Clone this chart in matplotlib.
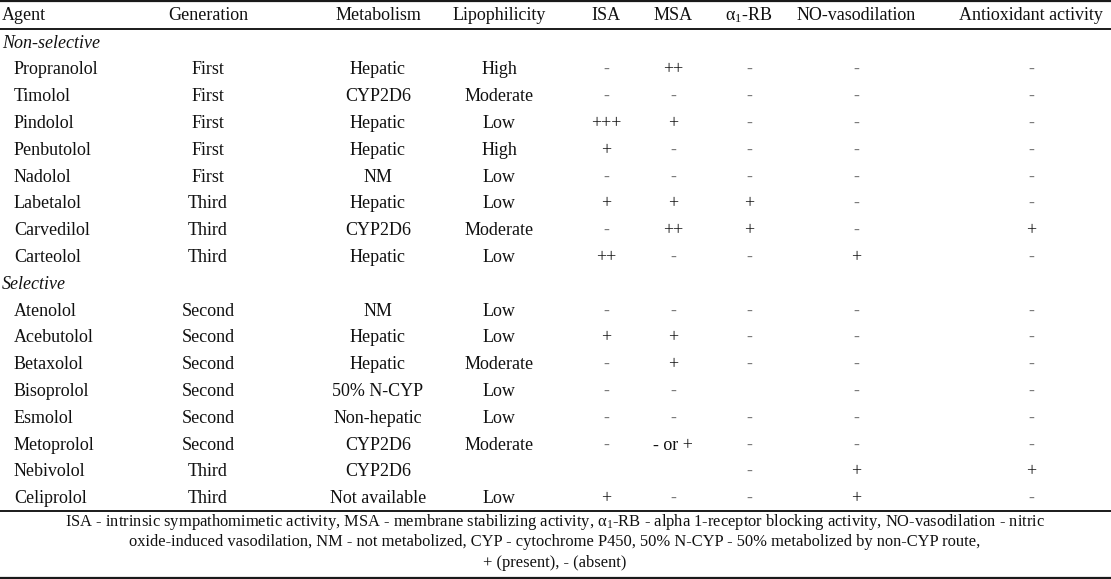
import matplotlib
matplotlib.use("Agg")
import matplotlib.pyplot as plt
from matplotlib.lines import Line2D

plt.rcParams['font.family'] = ['Liberation Serif', 'DejaVu Serif']
plt.rcParams['mathtext.fontset'] = 'custom'
plt.rcParams['mathtext.rm'] = 'Liberation Serif'
plt.rcParams['mathtext.it'] = 'Liberation Serif:italic'

headers = ["Agent", "Generation", "Metabolism", "Lipophilicity", "ISA", "MSA",
           r"$\mathrm{\alpha}_{1}$-RB", "NO-vasodilation", "Antioxidant activity"]

groups = ["Non-selective", "Selective"]
group_sizes = [8, 8]

agents = ["Propranolol", "Timolol", "Pindolol", "Penbutolol", "Nadolol", "Labetalol",
          "Carvedilol", "Carteolol",
          "Atenolol", "Acebutolol", "Betaxolol", "Bisoprolol", "Esmolol", "Metoprolol",
          "Nebivolol", "Celiprolol"]
generation = ["First", "First", "First", "First", "First", "Third", "Third", "Third",
              "Second", "Second", "Second", "Second", "Second", "Second", "Third", "Third"]
metabolism = ["Hepatic", "CYP2D6", "Hepatic", "Hepatic", "NM", "Hepatic", "CYP2D6", "Hepatic",
              "NM", "Hepatic", "Hepatic", "50% N-CYP", "Non-hepatic", "CYP2D6", "CYP2D6",
              "Not available"]
lipophilicity = ["High", "Moderate", "Low", "High", "Low", "Low", "Moderate", "Low",
                 "Low", "Low", "Moderate", "Low", "Low", "Moderate", "", "Low"]
isa = ["-", "-", "+++", "+", "-", "+", "-", "++",
       "-", "+", "-", "-", "-", "-", "", "+"]
msa = ["++", "-", "+", "-", "-", "+", "++", "-",
       "-", "+", "+", "-", "-", "- or +", "", "-"]
a1rb = ["-", "-", "-", "-", "-", "+", "+", "-",
        "-", "-", "-", "", "-", "-", "-", "-"]
no_vaso = ["-", "-", "-", "-", "-", "-", "-", "+",
           "-", "-", "-", "-", "-", "-", "+", "+"]
antiox = ["-", "-", "-", "-", "-", "-", "+", "-",
          "-", "-", "-", "-", "-", "-", "+", "-"]

footnote = ["ISA - intrinsic sympathomimetic activity, MSA - membrane stabilizing activity, "
            r"$\mathrm{\alpha}_{1}$-RB - alpha 1-receptor blocking activity, NO-vasodilation - nitric",
            "oxide-induced vasodilation, NM - not metabolized, CYP - cytochrome P450, "
            "50% N-CYP - 50% metabolized by non-CYP route,",
            "+ (present), - (absent)"]

W, H = 1111, 579
fig = plt.figure(figsize=(W / 100, H / 100), dpi=100)
ax = fig.add_axes([0, 0, 1, 1])
ax.set_xlim(0, W)
ax.set_ylim(H, 0)
ax.axis('off')

FS = 13.0
TXT = '#111111'
col_x = [2, 208, 378, 499, 606, 673, 749, 856, 1031]
indent = 14
header_y = 15
row_h = 26.8
first_y = 43

def hline(y, lw):
    ax.add_line(Line2D([0, W], [y, y], color='#1a1a1a', lw=lw, solid_capstyle='butt'))

hline(1.2, 1.6)
hline(28.5, 1.4)
hline(511, 1.4)
hline(577.5, 1.6)

for i, h in enumerate(headers):
    ha = 'left' if i == 0 else 'center'
    ax.text(col_x[i], header_y, h, ha=ha, va='center', fontsize=FS, color=TXT)

cols = [generation, metabolism, lipophilicity, isa, msa, a1rb, no_vaso, antiox]
y = first_y
k = 0
for g, n in zip(groups, group_sizes):
    ax.text(col_x[0], y, g, ha='left', va='center', fontsize=FS, style='italic', color=TXT)
    y += row_h
    for _ in range(n):
        ax.text(indent, y, agents[k], ha='left', va='center', fontsize=FS, color=TXT)
        for j, c in enumerate(cols):
            val = c[k]
            color = '#7a7a7a' if val == '-' else TXT
            ax.text(col_x[j + 1], y, val, ha='center', va='center', fontsize=FS, color=color)
        y += row_h
        k += 1

foot_y = [522, 542.5, 563]
for t, fy in zip(footnote, foot_y):
    ax.text(555, fy, t, ha='center', va='center', fontsize=11.9, color=TXT)

fig.savefig("out.png", dpi=100)
